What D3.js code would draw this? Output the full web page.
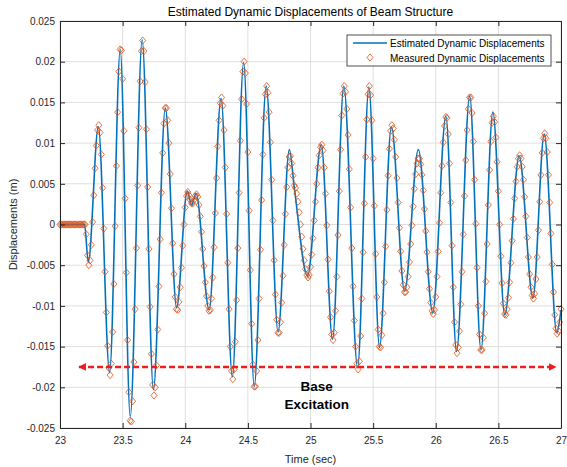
<!DOCTYPE html>
<html>
<head>
<meta charset="utf-8">
<script src="https://cdn.jsdelivr.net/npm/d3@7"></script>
<style>
    body { margin: 0; background: #fff; }
    svg { font-family: "Liberation Sans", Arial, sans-serif; }
    .grid line { stroke: #dfdfdf; stroke-width: 1; }
    .axis path, .axis line { stroke: #262626; }
    .axis text { fill: #262626; font-size: 10px; }
</style>
</head>
<body>
<script>
// Tick values and labels
var xTicks = [23, 23.5, 24, 24.5, 25, 25.5, 26, 26.5, 27];
var xTickLabels = ["23", "23.5", "24", "24.5", "25", "25.5", "26", "26.5", "27"];
var yTicks = [0.025, 0.02, 0.015, 0.01, 0.005, 0, -0.005, -0.01, -0.015, -0.02, -0.025];
var yTickLabels = ["0.025", "0.02", "0.015", "0.01", "0.005", "0", "-0.005", "-0.01", "-0.015", "-0.02", "-0.025"];

// Measured displacements (mm), sampled at 100 Hz from 23.00 s
var sampleStart = 23.0,
    sampleStep = 0.01;
var measuredMm = [
    0, 0, 0, 0, 0, 0, 0, 0, 0, 0,
    0, 0, 0, 0, 0, 0, 0, 0, 0, 0,
    0, -1.2, -3.8, -5.0, -4.4, -2.5, 0.3, 3.6, 6.9, 9.7,
    11.6, 12.2, 11.3, 8.6, 4.5, -0.5, -5.8, -10.8, -14.9, -17.6,
    -18.5, -17.1, -13.2, -7.3, -0.2, 7.2, 13.8, 18.8, 21.5, 21.4,
    17.9, 11.5, 3.2, -5.9, -14.2, -20.6, -24.1, -24.2, -21.7, -16.9,
    -10.4, -2.9, 4.8, 11.9, 17.6, 21.3, 22.6, 21.3, 17.5, 11.7,
    4.6, -3.0, -10.1, -15.9, -19.7, -21.0, -20.0, -17.3, -12.9, -7.6,
    -1.8, 3.9, 8.8, 12.4, 14.3, 14.3, 12.8, 10.0, 6.2, 2.0,
    -2.3, -6.1, -8.9, -10.4, -10.5, -9.5, -7.7, -5.3, -2.6, 0,
    2.1, 3.5, 4.0, 3.6, 3.0, 2.6, 2.6, 3.0, 3.5, 3.7,
    3.4, 2.4, 1.0, -0.9, -3.0, -5.1, -7.1, -8.8, -10.0, -10.6,
    -10.5, -9.1, -6.5, -2.8, 1.4, 5.7, 9.6, 12.8, 14.9, 15.6,
    14.6, 11.6, 7.0, 1.3, -4.7, -10.4, -15.0, -18.0, -19.0, -17.8,
    -14.4, -9.3, -2.9, 3.9, 10.3, 15.4, 18.8, 20.0, 18.6, 14.8,
    8.9, 1.7, -5.6, -12.2, -17.2, -19.9, -19.9, -18.0, -14.2, -9.1,
    -3.1, 3.0, 8.6, 13.1, 16.0, 17.0, 16.2, 13.8, 10.1, 5.5,
    0.5, -4.4, -8.6, -11.7, -13.3, -13.3, -12.0, -9.6, -6.3, -2.5,
    1.3, 4.6, 7.0, 8.3, 8.4, 7.5, 6.0, 4.8, 4.5, 3.8,
    2.8, 1.5, 0, -1.5, -3.0, -4.4, -5.5, -6.2, -6.5, -6.2,
    -5.2, -3.7, -1.7, 0.5, 2.8, 5.0, 7.0, 8.5, 9.5, 9.8,
    9.1, 7.0, 3.8, -0.1, -4.3, -8.2, -11.4, -13.5, -14.2, -13.3,
    -10.6, -6.4, -1.3, 4.1, 9.2, 13.4, 16.1, 17.0, 16.3, 14.2,
    11.0, 6.8, 2.1, -2.9, -7.6, -11.8, -15.0, -17.1, -17.8, -16.8,
    -13.7, -9.1, -3.4, 2.6, 8.3, 12.9, 16.0, 17.0, 15.9, 12.8,
    8.1, 2.3, -3.6, -8.9, -12.9, -15.0, -15.1, -13.6, -10.9, -7.1,
    -2.7, 1.8, 6.0, 9.3, 11.5, 12.2, 11.8, 10.4, 8.3, 5.7,
    2.7, -0.4, -3.3, -5.7, -7.4, -8.3, -8.3, -7.7, -6.4, -4.6,
    -2.4, -0.1, 2.2, 4.4, 6.2, 7.5, 8.1, 8.1, 7.4, 6.1,
    4.2, 1.9, -0.8, -3.4, -5.8, -7.9, -9.6, -10.6, -11.0, -10.5,
    -8.9, -6.4, -3.3, 0.2, 3.9, 7.2, 10.1, 12.1, 13.2, 13.1,
    11.1, 7.5, 2.7, -2.6, -7.7, -12.0, -14.8, -15.8, -15.1, -13.1,
    -9.8, -5.8, -1.2, 3.5, 7.9, 11.6, 14.2, 15.6, 15.6, 13.7,
    10.2, 5.5, 0.1, -5.3, -10.0, -13.5, -15.4, -15.4, -13.9, -10.9,
    -7.0, -2.4, 2.4, 6.7, 10.2, 12.5, 13.3, 12.6, 10.7, 7.7,
    4.1, 0, -3.9, -7.2, -9.7, -11.0, -11.1, -10.4, -9.0, -7.1,
    -4.7, -2.0, 0.7, 3.2, 5.3, 7.1, 8.1, 8.5, 8.1, 7.1,
    5.5, 3.4, 1.0, -1.6, -4.0, -6.1, -7.7, -8.7, -9.1, -8.5,
    -6.7, -4.0, -0.7, 2.8, 6.1, 8.8, 10.6, 11.2, 10.6, 8.9,
    6.1, 2.7, -1.1, -4.9, -8.3, -11.1, -12.8, -13.4, -13.1, -12.0,
    -10.4
];

// Estimated displacements: turning points (s, mm)
var estTimes = [23.0, 23.196, 23.226, 23.306, 23.396, 23.481, 23.561, 23.656, 23.746, 23.841,
    23.931, 24.016, 24.051, 24.086, 24.191, 24.286, 24.376, 24.466, 24.551, 24.646,
    24.741, 24.831, 24.871, 24.976, 25.086, 25.176, 25.266, 25.376, 25.466, 25.551,
    25.646, 25.751, 25.861, 25.976, 26.081, 26.166, 26.271, 26.361, 26.456, 26.551,
    26.666, 26.776, 26.866, 26.966, 27.0];
var estMm = [0, 0, -4.6, 12.0, -18.2, 21.5, -23.6, 22.7, -20.3, 14.3,
    -10.2, 4.1, 2.4, 3.8, -10.5, 15.5, -18.7, 19.9, -19.9, 17.0,
    -13.2, 9.2, 4.5, -6.3, 9.8, -14.1, 17.0, -17.6, 16.9, -15.1,
    12.0, -8.2, 9.2, -10.8, 13.3, -15.6, 15.8, -15.4, 13.8, -11.1,
    8.4, -9.0, 11.1, -13.3, -10.5];

// Base excitation annotation (data units)
var arrowStart = 23.152, arrowEnd = 26.958, arrowLevel = -0.0175;
var noteLines = ["Base", "Excitation"];
var noteTime = 25.05;

var seriesNames = ["Estimated Dynamic Displacements", "Measured Dynamic Displacements"];

var width = 567,
    height = 467;
var margin = {top: 21, right: 6, bottom: 39, left: 60};
var plotW = width - margin.left - margin.right,
    plotH = height - margin.top - margin.bottom;

var svg = d3.select("body").append("svg")
    .attr("width", width)
    .attr("height", height);

var x = d3.scaleLinear().domain([23, 27]).range([margin.left, margin.left + plotW]);
var y = d3.scaleLinear().domain([-0.025, 0.025]).range([margin.top + plotH, margin.top]);

// Grid
var grid = svg.append("g").attr("class", "grid");
grid.selectAll(".gx").data(xTicks).enter().append("line")
    .attr("x1", function(d){ return x(d); })
    .attr("x2", function(d){ return x(d); })
    .attr("y1", margin.top)
    .attr("y2", margin.top + plotH);
grid.selectAll(".gy").data(yTicks).enter().append("line")
    .attr("x1", margin.left)
    .attr("x2", margin.left + plotW)
    .attr("y1", function(d){ return y(d); })
    .attr("y2", function(d){ return y(d); });

// Estimated line
var estData = estTimes.map(function(t, i){ return {t: t, v: estMm[i] / 1000}; });
var line = d3.line()
    .x(function(d){ return x(d.t); })
    .y(function(d){ return y(d.v); })
    .curve(d3.curveMonotoneX);
svg.append("path")
    .datum(estData)
    .attr("fill", "none")
    .attr("stroke", "#0072BD")
    .attr("stroke-width", 1.6)
    .attr("d", line);

// Measured markers
var measData = measuredMm.map(function(v, i){ return {t: sampleStart + i * sampleStep, v: v / 1000}; });
var diamond = "M0,-3.6L3,0L0,3.6L-3,0Z";
svg.append("g").selectAll("path")
    .data(measData)
    .enter().append("path")
    .attr("d", diamond)
    .attr("transform", function(d){ return "translate(" + x(d.t) + "," + y(d.v) + ")"; })
    .attr("fill", "none")
    .attr("stroke", "#D95319")
    .attr("stroke-width", 0.8);

// Axes (ticks inside, box on)
var xAxis = svg.append("g").attr("class", "axis")
    .attr("transform", "translate(0," + (margin.top + plotH) + ")")
    .call(d3.axisBottom(x).tickValues(xTicks)
        .tickFormat(function(d, i){ return xTickLabels[i]; })
        .tickSizeInner(-5).tickSizeOuter(0).tickPadding(9));
svg.append("g").attr("class", "axis")
    .attr("transform", "translate(0," + margin.top + ")")
    .call(d3.axisTop(x).tickValues(xTicks).tickFormat("")
        .tickSizeInner(-5).tickSizeOuter(0));
svg.append("g").attr("class", "axis")
    .attr("transform", "translate(" + margin.left + ",0)")
    .call(d3.axisLeft(y).tickValues(yTicks)
        .tickFormat(function(d, i){ return yTickLabels[i]; })
        .tickSizeInner(-5).tickSizeOuter(0).tickPadding(5));
svg.append("g").attr("class", "axis")
    .attr("transform", "translate(" + (margin.left + plotW) + ",0)")
    .call(d3.axisRight(y).tickValues(yTicks).tickFormat("")
        .tickSizeInner(-5).tickSizeOuter(0));
svg.selectAll(".axis text").style("font-family", "inherit");

// Titles
svg.append("text")
    .attr("x", margin.left + plotW / 2)
    .attr("y", 16)
    .attr("text-anchor", "middle")
    .style("font-size", "12px")
    .attr("fill", "#000")
    .text("Estimated Dynamic Displacements of Beam Structure");
svg.append("text")
    .attr("x", margin.left + plotW / 2)
    .attr("y", 463)
    .attr("text-anchor", "middle")
    .style("font-size", "11px")
    .attr("fill", "#262626")
    .text("Time (sec)");
svg.append("text")
    .attr("transform", "translate(17," + (margin.top + plotH / 2) + ") rotate(-90)")
    .attr("text-anchor", "middle")
    .style("font-size", "11px")
    .attr("fill", "#262626")
    .text("Displacements (m)");

// Base excitation arrow
var defs = svg.append("defs");
defs.append("marker")
    .attr("id", "ahEnd")
    .attr("viewBox", "0 0 10 10")
    .attr("refX", 9).attr("refY", 5)
    .attr("markerWidth", 3.2).attr("markerHeight", 3.2)
    .attr("orient", "auto-start-reverse")
    .append("path").attr("d", "M0,0L10,5L0,10Z").attr("fill", "#ee1c1c");
svg.append("line")
    .attr("x1", x(arrowStart)).attr("x2", x(arrowEnd))
    .attr("y1", y(arrowLevel)).attr("y2", y(arrowLevel))
    .attr("stroke", "#ee1c1c")
    .attr("stroke-width", 2.4)
    .attr("stroke-dasharray", "6,3")
    .attr("marker-start", "url(#ahEnd)")
    .attr("marker-end", "url(#ahEnd)");
svg.append("g").selectAll("text")
    .data(noteLines)
    .enter().append("text")
    .attr("x", x(noteTime))
    .attr("y", function(d, i){ return y(arrowLevel) + 24 + i * 18; })
    .attr("text-anchor", "middle")
    .style("font-size", "13.5px")
    .style("font-weight", "bold")
    .attr("fill", "#000")
    .text(function(d){ return d; });

// Legend
var lg = svg.append("g").attr("transform", "translate(347,35)");
lg.append("rect")
    .attr("width", 204).attr("height", 31)
    .attr("fill", "#fff")
    .attr("stroke", "#262626")
    .attr("stroke-width", 0.8);
lg.append("line")
    .attr("x1", 6).attr("x2", 40).attr("y1", 8).attr("y2", 8)
    .attr("stroke", "#0072BD").attr("stroke-width", 1.6);
lg.append("path")
    .attr("d", diamond)
    .attr("transform", "translate(23,22.5)")
    .attr("fill", "none").attr("stroke", "#D95319").attr("stroke-width", 0.8);
lg.selectAll(".lt").data(seriesNames).enter().append("text")
    .attr("x", 43)
    .attr("y", function(d, i){ return 11.5 + i * 15; })
    .style("font-size", "10px")
    .attr("fill", "#000")
    .text(function(d){ return d; });
</script>
</body>
</html>
